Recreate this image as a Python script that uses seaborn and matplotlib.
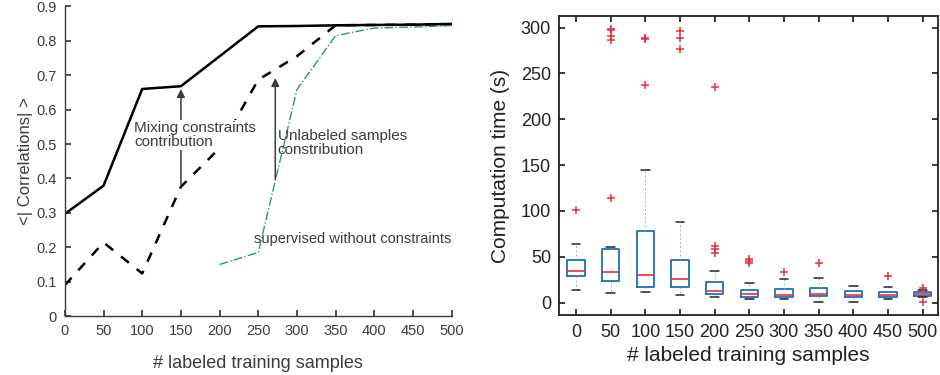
import numpy as np
import matplotlib
matplotlib.use('Agg')
import matplotlib.pyplot as plt
import seaborn as sns

sns.set_theme(style='white')
plt.rcParams['font.family'] = ['Liberation Sans', 'DejaVu Sans']

# left panel: mean |correlation| vs number of labeled samples
n_labeled = [0, 50, 100, 150, 200, 250, 300, 350, 400, 450, 500]
corr_full = [0.297, 0.379, 0.66, 0.668, 0.755, 0.842, 0.843, 0.845, 0.846, 0.847, 0.849]
corr_red = [0.297, 0.379, 0.66, 0.668, 0.755, 0.842, 0.842, 0.844, 0.845, 0.845, 0.846]
corr_unconstr = [0.09, 0.214, 0.124, 0.376, 0.488, 0.687, 0.755, 0.845, 0.846, 0.847, 0.848]
x_sup = [200, 250, 300, 350, 400, 450, 500]
corr_sup = [0.150, 0.185, 0.658, 0.815, 0.837, 0.840, 0.844]

# right panel: computation time box statistics
box_labels = ['0', '50', '100', '150', '200', '250', '300', '350', '400', '450', '500']
q1 = [28.7, 24.0, 16.7, 17.4, 9.1, 6.5, 6.2, 7.3, 5.8, 6.2, 7.6]
q3 = [46.1, 58.1, 78.1, 46.9, 22.9, 14.2, 14.9, 16.0, 12.4, 11.6, 11.3]
med = [34.9, 33.8, 30.5, 25.8, 12.7, 9.4, 8.7, 9.4, 8.0, 8.7, 9.4]
whis_lo = [14.2, 10.5, 11.3, 8.4, 5.8, 4.0, 4.0, 0.7, 1.1, 4.0, 6.2]
whis_hi = [63.6, 60.7, 144.6, 88.3, 34.1, 21.1, 26.2, 27.2, 18.2, 16.7, 13.4]
fliers = [[101.0], [113.7, 287.0, 291.0, 297.0, 298.0], [237.9, 287.7, 288.8],
          [277.2, 289.1, 296.4], [54.5, 58.8, 61.8, 235.0], [43.6, 45.4, 47.6],
          [33.1], [43.2], [], [29.4], [0.4, 16.3]]

fig = plt.figure(figsize=(9.4, 3.75), dpi=100)

# ---- left panel
grey = '#3c3c3c'
ax1 = fig.add_axes([0.069, 0.157, 0.4115, 0.826])
sns.lineplot(x=n_labeled, y=corr_red, ax=ax1, color='#e0303a', lw=1.0, linestyle='-.')
sns.lineplot(x=n_labeled, y=corr_full, ax=ax1, color='black', lw=1.8)
sns.lineplot(x=n_labeled, y=corr_unconstr, ax=ax1, color='black', lw=1.8, linestyle=(0, (4, 4)))
sns.lineplot(x=x_sup, y=corr_sup, ax=ax1, color='#2e9a5c', lw=1.0, linestyle='-.')
ax1.set_xlim(0, 500)
ax1.set_ylim(0, 0.9)
ax1.set_xticks(n_labeled)
ax1.set_yticks(np.arange(0, 0.91, 0.1))
ax1.set_yticklabels(['0'] + ['%.1f' % v for v in np.arange(0.1, 0.91, 0.1)])
for s in ['top', 'right']:
    ax1.spines[s].set_visible(False)
for s in ['left', 'bottom']:
    ax1.spines[s].set_color(grey)
    ax1.spines[s].set_linewidth(1.0)
ax1.tick_params(direction='in', length=4, color=grey, labelcolor=grey, labelsize=10.5,
                left=True, bottom=True, pad=6)
ax1.set_xlabel('# labeled training samples', fontsize=13, color=grey, labelpad=12)
ax1.set_ylabel('<| Correlations| >', fontsize=12, color=grey, labelpad=2)

ax1.annotate('', xy=(150, 0.668), xytext=(150, 0.37),
             arrowprops=dict(arrowstyle='-|>', color=grey, lw=1.1, mutation_scale=12))
ax1.annotate('', xy=(272, 0.70), xytext=(272, 0.39),
             arrowprops=dict(arrowstyle='-|>', color=grey, lw=1.1, mutation_scale=12))
ax1.text(90, 0.527, 'Mixing constraints\ncontribution', fontsize=11, color=grey,
         va='center', ha='left', linespacing=1.0,
         bbox=dict(facecolor='white', edgecolor='none', pad=0.5))
ax1.text(275, 0.503, 'Unlabeled samples\nconstribution', fontsize=11, color=grey,
         va='center', ha='left', linespacing=1.0)
ax1.text(244, 0.223, 'supervised without constraints', fontsize=10.5, color=grey,
         va='center', ha='left')

# ---- right panel
ax2 = fig.add_axes([0.595, 0.159, 0.403, 0.799])
stats = []
for i in range(len(box_labels)):
    stats.append(dict(label=box_labels[i], med=med[i], q1=q1[i], q3=q3[i],
                      whislo=whis_lo[i], whishi=whis_hi[i], fliers=fliers[i]))
ax2.bxp(stats, positions=range(len(box_labels)), widths=0.5, showfliers=True,
        boxprops=dict(color='#1a6fbf', lw=1.3),
        medianprops=dict(color='#e8303c', lw=1.2),
        whiskerprops=dict(color='#9a9a9a', lw=0.6, linestyle=(0, (2, 3))),
        capprops=dict(color='#222222', lw=1.1),
        flierprops=dict(marker='+', markeredgecolor='#e8303c', markersize=6, mew=1.1))
ax2.set_xlim(-0.48, 10.45)
ax2.set_ylim(-14, 313)
ax2.set_yticks(range(0, 301, 50))
ax2.set_xticks(range(len(box_labels)))
ax2.set_xticklabels(box_labels)
for s in ax2.spines.values():
    s.set_color('#222222')
    s.set_linewidth(1.3)
ax2.tick_params(direction='in', length=4, labelsize=13, top=True, right=True,
                left=True, bottom=True, colors='#222222', pad=6)
ax2.set_xlabel('# labeled training samples', fontsize=15, color='#222222', labelpad=4)
ax2.set_ylabel('Computation time (s)', fontsize=15, color='#222222', labelpad=8)

fig.savefig('out.png', dpi=100)
